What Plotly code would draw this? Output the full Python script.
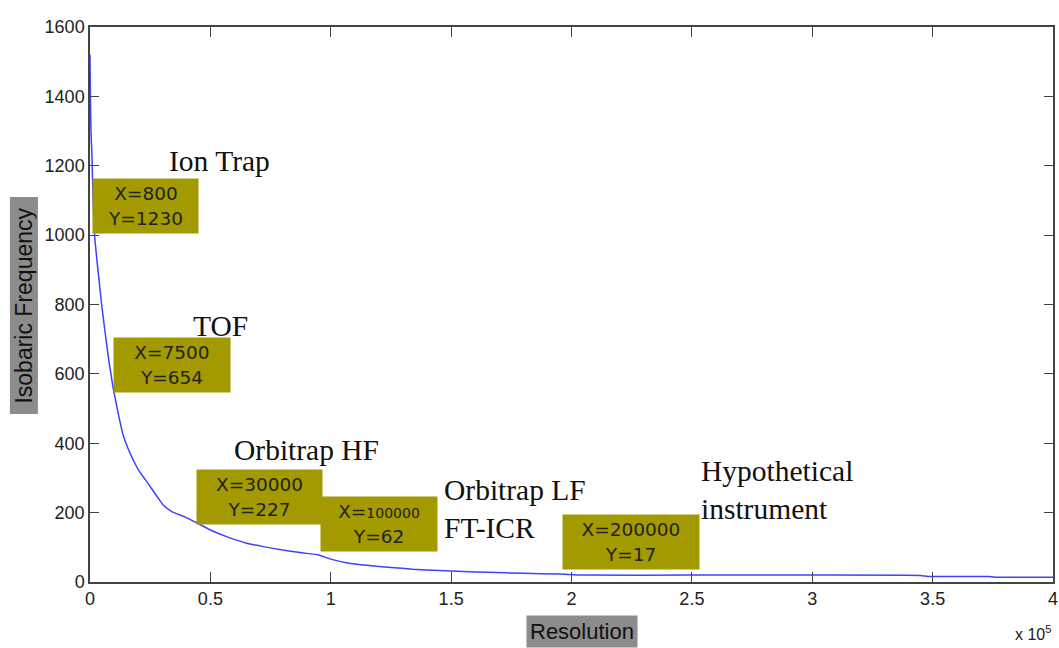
import plotly.graph_objects as go

# Curve data
resolution = [0, 150, 400, 800, 1200, 1600, 2000, 3300, 5000, 7500, 9600, 11600, 13700,
              15800, 20000, 24000, 28000, 30400, 34000, 39500, 44500, 50000, 57000, 65000,
              72000, 80000, 88000, 95000, 100000, 107000, 115000, 125000, 134000, 145000,
              155000, 165000, 180000, 195000, 205000, 250000, 300000, 345000, 348000,
              373000, 376000, 400000]
isobaric_freq = [1520, 1410, 1300, 1230, 1120, 1040, 990, 900, 790, 654, 560, 490, 425,
                 385, 325, 285, 245, 222, 203, 187, 170, 150, 130, 112,
                 102, 92, 84, 78, 66, 55, 48, 42, 37, 33,
                 30, 28, 25, 23, 20, 20, 20, 19, 16,
                 16, 14, 14]

# Marked instrument points
point_x = [800, 7500, 30000, 100000, 200000]
point_y = [1230, 654, 227, 62, 17]

# Instrument names
instrument_names = ["Ion Trap", "TOF", "Orbitrap HF", "Orbitrap LF<br>FT-ICR", "Hypothetical<br>instrument"]

x_tickvals = [0, 50000, 100000, 150000, 200000, 250000, 300000, 350000, 400000]
x_ticktext = ["0", "0.5", "1", "1.5", "2", "2.5", "3", "3.5", "4"]
y_tickvals = [0, 200, 400, 600, 800, 1000, 1200, 1400, 1600]

# Box placement (data coordinates: left edge, vertical centre) and sizes
box_pos = [(830, 1083), (9560, 626), (44070, 246), (95630, 168), (196000, 116)]
box_w = [97, 108, 117, 108, 128]
small_x_digits = [False, False, False, True, False]
name_pos = [(32000, 1214), (42000, 738), (59000, 381), (146000, 211), (253000, 264)]

fig = go.Figure()
fig.add_trace(go.Scatter(x=resolution, y=isobaric_freq, mode="lines",
                         line=dict(color="#4040ff", width=1.5, shape="spline", smoothing=0.4),
                         showlegend=False, hoverinfo="skip"))

annotations = []
for i, (px, py) in enumerate(zip(point_x, point_y)):
    xs = f"{px}"
    if small_x_digits[i]:
        xs = f"<span style='font-size:14px'>{px}</span>"
    annotations.append(dict(
        x=box_pos[i][0], y=box_pos[i][1], xref="x", yref="y",
        xanchor="left", yanchor="middle",
        text=f"X={xs}<br>Y={py}", showarrow=False,
        bgcolor="#a39a00", width=box_w[i], height=46, borderpad=4,
        font=dict(family="DejaVu Sans", size=18.5, color="#222222"),
        align="center"))

for i, name in enumerate(instrument_names):
    annotations.append(dict(
        x=name_pos[i][0], y=name_pos[i][1], xref="x", yref="y",
        xanchor="left", yanchor="middle", text=name, showarrow=False,
        align="left",
        font=dict(family="Liberation Serif", size=29.5, color="#111111")))

# axis titles with gray backgrounds
annotations.append(dict(
    x=0.511, y=-0.089, xref="paper", yref="paper", xanchor="center", yanchor="middle",
    text="Resolution", showarrow=False, bgcolor="#8c8c8c", borderpad=3,
    font=dict(family="Liberation Sans", size=22, color="#111111")))
annotations.append(dict(
    x=-0.0691, y=0.499, xref="paper", yref="paper", xanchor="center", yanchor="middle",
    text="Isobaric Frequency", textangle=-90, showarrow=False, bgcolor="#8c8c8c",
    borderpad=1, height=25, width=214,
    font=dict(family="Liberation Sans", size=23, color="#111111")))
annotations.append(dict(
    x=1.0, y=-0.07, xref="paper", yref="paper", xanchor="right", yanchor="top",
    text="x 10<sup>5</sup>", showarrow=False,
    font=dict(family="Liberation Sans", size=16, color="#222222")))

fig.update_layout(
    width=1059, height=648,
    margin=dict(l=90, r=6, t=27, b=66),
    plot_bgcolor="white", paper_bgcolor="white",
    annotations=annotations,
    font=dict(family="Liberation Sans", size=18, color="#222222"),
)
fig.update_xaxes(range=[0, 400000], tickvals=x_tickvals, ticktext=x_ticktext,
                 ticks="inside", ticklen=10, tickcolor="#444", showline=True,
                 linecolor="#444", linewidth=1.5, mirror="ticks", showgrid=False,
                 zeroline=False, tickfont=dict(size=18), automargin=False,
                 ticklabeloverflow="allow")
fig.update_yaxes(range=[0, 1600], tickvals=y_tickvals, ticks="inside", ticklen=9,
                 tickcolor="#444", showline=True, linecolor="#444", linewidth=1.5,
                 mirror="ticks", showgrid=False, zeroline=False, tickfont=dict(size=18),
                 automargin=False)

fig.write_html("out.html")
